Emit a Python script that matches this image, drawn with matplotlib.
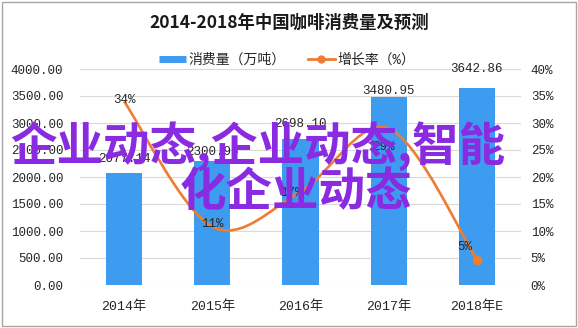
import matplotlib
matplotlib.use("Agg")
import matplotlib.pyplot as plt
from matplotlib.path import Path
from matplotlib.patches import PathPatch, Rectangle
from matplotlib.lines import Line2D
import numpy as np

# ---- data ----
categories = ["2014年", "2015年", "2016年", "2017年", "2018年E"]
consumption = [2077.14, 2300.96, 2698.10, 3480.95, 3642.86]
growth = [34.0, 10.8, 17.3, 29.0, 4.7]
growth_labels = ["34%", "11%", "17%", "29%", "5%"]
left_ticks = [0, 500, 1000, 1500, 2000, 2500, 3000, 3500, 4000]
right_ticks = [0, 5, 10, 15, 20, 25, 30, 35, 40]
title = "2014-2018年中国咖啡消费量及预测"
legend_labels = ["消费量（万吨）", "增长率（%）"]
overlay_lines = ["企业动态,企业动态,智能", "化企业动态"]

# ---- style ----
BAR = "#3d9bf0"
ORANGE = "#ed7d31"
GRID = "#d9d9d9"
TXT = "#262626"
MONO = ["Liberation Mono", "Noto Sans CJK SC", "DejaVu Sans"]
CJK = ["Noto Sans CJK SC", "DejaVu Sans"]

W, H = 578, 328
fig = plt.figure(figsize=(W / 100, H / 100), dpi=100)
fig.patch.set_facecolor("white")

ax = fig.add_axes([80 / W, 1 - 285 / H, 441 / W, 216 / H])
ax2 = ax.twinx()

x = np.arange(len(categories))
ax.bar(x, consumption, width=0.41, color=BAR, zorder=2)
ax.set_xlim(-0.5, len(categories) - 0.5)
ax.set_ylim(0, 4000)
ax.set_yticks(left_ticks)
ax.set_yticklabels([f"{v:.2f}" for v in left_ticks], family=MONO, fontsize=9, color=TXT)
ax.set_xticks(x)
ax.set_xticklabels(categories, family=MONO, fontsize=9.5, color=TXT)
ax.tick_params(axis="both", length=0)
ax.tick_params(axis="y", pad=12)
ax.tick_params(axis="x", pad=11)
ax.grid(axis="y", color=GRID, linewidth=0.8, zorder=0)
ax.set_axisbelow(True)
for s in ax.spines.values():
    s.set_visible(False)

ax2.set_ylim(0, 40)
ax2.set_yticks(right_ticks)
ax2.set_yticklabels([f"{v}%" for v in right_ticks], family=MONO, fontsize=9, color=TXT)
ax2.tick_params(axis="y", length=0, pad=7)
for s in ax2.spines.values():
    s.set_visible(False)

# smoothed line (Catmull-Rom -> cubic Bezier, Excel-like)
pts = np.column_stack([x, growth]).astype(float)
verts = [tuple(pts[0])]
codes = [Path.MOVETO]
n = len(pts)
for i in range(n - 1):
    p0 = pts[i - 1] if i > 0 else pts[i]
    p1 = pts[i]
    p2 = pts[i + 1]
    p3 = pts[i + 2] if i + 2 < n else pts[i + 1]
    c1 = p1 + (p2 - p0) / 6.0
    c2 = p2 - (p3 - p1) / 6.0
    verts += [tuple(c1), tuple(c2), tuple(p2)]
    codes += [Path.CURVE4] * 3
ax2.add_patch(PathPatch(Path(verts, codes), facecolor="none", edgecolor=ORANGE,
                        linewidth=1.9, zorder=3))
ax2.plot([x[-1]], [growth[-1]], "o", color=ORANGE, markersize=6, zorder=4)

# bar value labels (offsets in px above bar top)
bar_off = [14, 9, 15, 6, 19]
for xi, v, o in zip(x, consumption, bar_off):
    ax.annotate(f"{v:.2f}", (xi, v), xytext=(0, o * 0.72), textcoords="offset points",
                ha="center", va="center", family=MONO, fontsize=9, color=TXT, zorder=5)

# growth labels (offsets in px relative to point)
g_off = [(0, -1.5), (0, -3), (-9, 1.5), (-5, 19), (-12, -13)]
for xi, v, lab, (dx, dy) in zip(x, growth, growth_labels, g_off):
    ax2.annotate(lab, (xi, v), xytext=(dx * 0.72, -dy * 0.72), textcoords="offset points",
                 ha="center", va="center", family=MONO, fontsize=9, color=TXT, zorder=5)

# title
fig.text(289 / W, 1 - 23 / H, title, ha="center", va="center", family=CJK,
         fontsize=12.5, fontweight="bold", color="#1a1a1a")

# legend
handles = [Line2D([], [], color=BAR, linewidth=5, solid_capstyle="butt"),
           Line2D([], [], color=ORANGE, linewidth=2, marker="o", markersize=5)]
leg = fig.legend(handles, legend_labels, loc="center", bbox_to_anchor=(287 / W, 1 - 60 / H),
                 ncol=2, frameon=False, handlelength=1.95, handletextpad=0.2,
                 columnspacing=1.6, prop={"family": MONO, "size": 10})
for t in leg.get_texts():
    t.set_color(TXT)

# overlay text
fig.text(10 / W, 1 - 146 / H, overlay_lines[0], ha="left", va="center", family=CJK,
         fontsize=33.5, fontweight="bold", color="#8a2be2", zorder=10)
fig.text(180 / W, 1 - 192 / H, overlay_lines[1], ha="left", va="center", family=CJK,
         fontsize=33.5, fontweight="bold", color="#8a2be2", zorder=10)

# outer border
fig.patches.append(Rectangle((2 / W, 2 / H), 1 - 4 / W, 1 - 4 / H, transform=fig.transFigure,
                             fill=False, edgecolor="#a6a6a6", linewidth=1))

fig.savefig("out.png", dpi=100)
